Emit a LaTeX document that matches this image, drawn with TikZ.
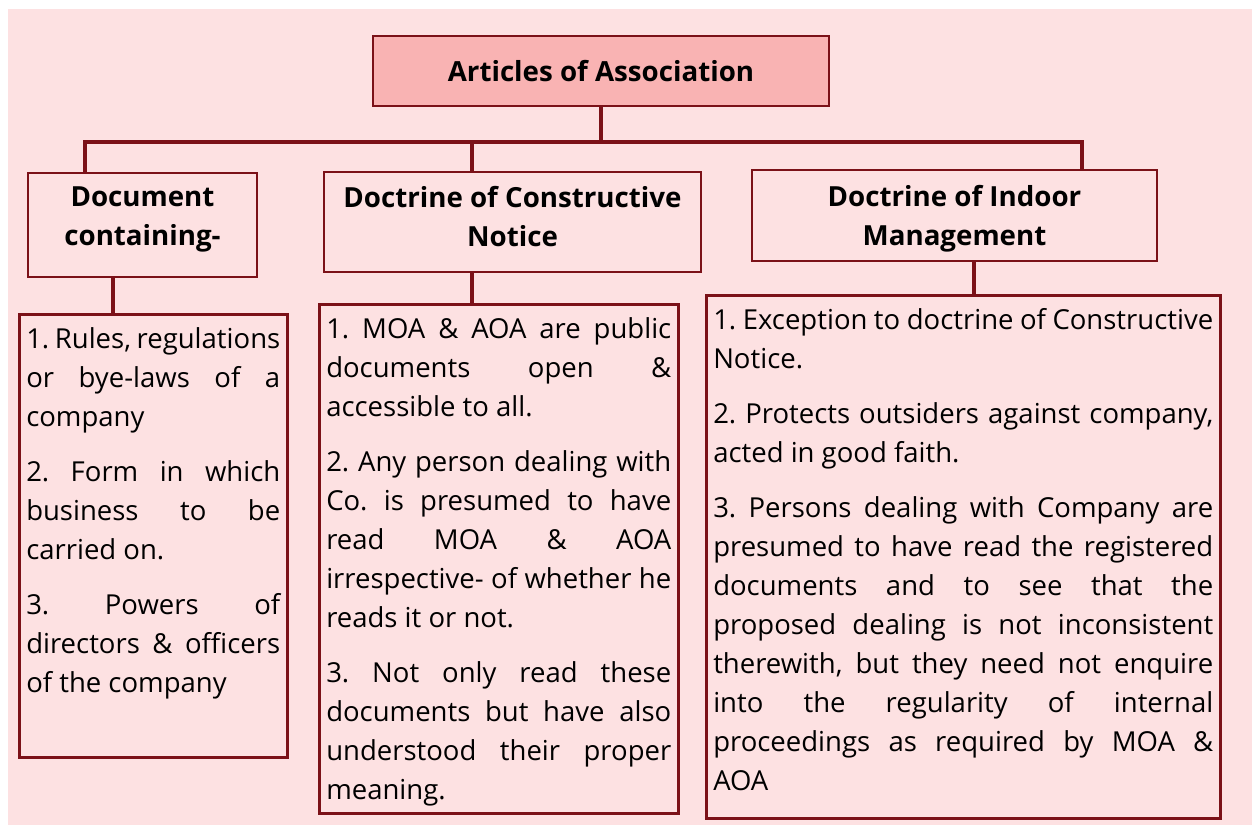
\documentclass[tikz,border=0pt]{standalone}
\usepackage{fontspec}
\setmainfont{Open Sans}
\usetikzlibrary{positioning,calc}

\definecolor{aoaback}{RGB}{253,225,226}
\definecolor{aoaroot}{RGB}{249,179,179}
\definecolor{aoaline}{RGB}{123,17,24}

% text block of a detail box: width, height, text
\newcommand{\detailtext}[3]{%
  \parbox[t][#2][t]{#1}{\frenchspacing\tolerance=10000\hbadness=10000
    \hyphenpenalty=10000\setlength{\parskip}{16pt}%
    \rule{0pt}{34pt}#3}}

\begin{document}
\begin{tikzpicture}[x=1pt,y=-1pt,
    every node/.style={font=\fontsize{27.5}{39}\selectfont},
    head/.style={draw=aoaline, line width=2.5pt, fill=aoaback, align=center,
      inner sep=0pt, font=\fontsize{27.7}{39}\selectfont\bfseries},
    detail/.style={draw=aoaline, line width=2.5pt, anchor=north west,
      inner xsep=7pt, inner ysep=0pt},
    link/.style={draw=aoaline, line width=4.5pt}]
  \useasboundingbox (0,0) rectangle (1252,825);
  \fill[aoaback] (8,9) rectangle (1252,825);

  %top
  \node[head, fill=aoaroot, minimum width=456pt, minimum height=70pt] (root) at (601,71)
    {Articles of Association};

  %headings
  \node[head, minimum width=229pt, minimum height=104pt] (h1) at (142.5,225)
    {Document\\ containing-\rule[-17pt]{0pt}{1pt}};
  \node[head, minimum width=377pt, minimum height=100pt] (h2) at (512.5,222)
    {Doctrine of Constructive\\ Notice\rule[-11pt]{0pt}{1pt}};
  \node[head, minimum width=405pt, minimum height=91pt] (h3) at (954.5,215.5)
    {\rule{0pt}{27pt}Doctrine of Indoor\\ Management};

  %details
  \node[detail] (d1) at (18,313) {\detailtext{254pt}{443pt}{%
    1. Rules, regulations\linebreak or bye-laws of a\linebreak company\par
    2. Form in which\linebreak business to be\linebreak carried on.\par
    3. Powers of\linebreak directors \& officers\linebreak of the company}};
  \node[detail] (d2) at (318,303) {\detailtext{345pt}{509pt}{%
    1. MOA \& AOA are public\linebreak documents open \&\linebreak accessible to all.\par
    2. Any person dealing with\linebreak Co. is presumed to have\linebreak read MOA \& AOA\linebreak
    irrespective- of whether he\linebreak reads it or not.\par
    3. Not only read these\linebreak documents but have also\linebreak understood their proper\linebreak meaning.}};
  \node[detail] (d3) at (705,294) {\detailtext{500pt}{523pt}{%
    1. Exception to doctrine of Constructive\linebreak Notice.\par
    2. Protects outsiders against company,\linebreak acted in good faith.\par
    3. Persons dealing with Company are\linebreak presumed to have read the registered\linebreak
    documents and to see that the\linebreak proposed dealing is not inconsistent\linebreak
    therewith, but they need not enquire\linebreak into the regularity of internal\linebreak
    proceedings as required by MOA \&\linebreak AOA}};

  %connectors
  \coordinate (bus1) at (85,142);
  \coordinate (bus2) at (472,142);
  \coordinate (bus3) at (1082,142);
  \coordinate (j1) at (113,295);
  \coordinate (j2) at (472,295);
  \coordinate (j3) at (974,280);
  \draw[link] (root.south) -- (root.south |- bus1);
  \draw[link] (bus1 |- h1.north) -- (bus1) -- (bus3) -- (bus3 |- h3.north);
  \draw[link] (bus2) -- (bus2 |- h2.north);
  \draw[link] (j1 |- h1.south) -- (j1 |- d1.north);
  \draw[link] (j2 |- h2.south) -- (j2 |- d2.north);
  \draw[link] (j3 |- h3.south) -- (j3 |- d3.north);
\end{tikzpicture}
\end{document}
